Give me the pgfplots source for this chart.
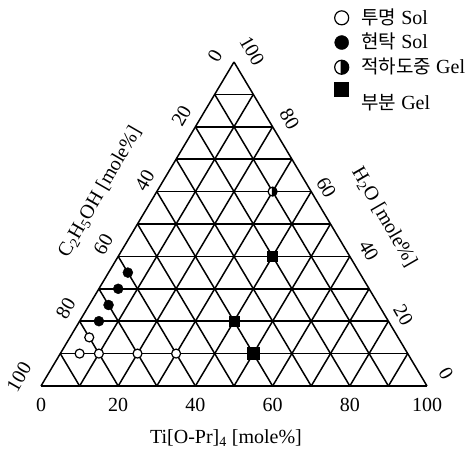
\documentclass[border=0pt]{standalone}
\usepackage{pgfplots}
\pgfplotsset{compat=1.18}
\usepackage{fontspec}
\setmainfont{Liberation Serif}
\newfontfamily\kr[Scale=0.95]{Noto Sans CJK KR}

% half filled circle for "during dropping gel"
\pgfdeclareplotmark{halfcirc}{%
  \pgfscope
  \pgfsetfillcolor{white}%
  \pgfpathcircle{\pgfpointorigin}{\pgfplotmarksize}%
  \pgfusepath{fill}%
  \pgfsetfillcolor{black}%
  \pgfpathmoveto{\pgfqpoint{-0.15\pgfplotmarksize}{\pgfplotmarksize}}%
  \pgfpathlineto{\pgfqpoint{-0.15\pgfplotmarksize}{-\pgfplotmarksize}}%
  \pgfpathlineto{\pgfqpoint{0pt}{-\pgfplotmarksize}}%
  \pgfpatharc{-90}{90}{\pgfplotmarksize}%
  \pgfpathclose
  \pgfusepath{fill}%
  \pgfpathcircle{\pgfpointorigin}{\pgfplotmarksize}%
  \pgfusepath{stroke}%
  \endpgfscope
}

\tikzset{
  lbot/.style={anchor=north, inner sep=0pt, yshift=-12pt},
  lleft/.style 2 args={inner sep=0pt, xshift=#1, yshift=#2, rotate=60},
  lright/.style 2 args={inner sep=0pt, xshift=#1, yshift=#2, rotate=-60},
}

\begin{document}
\fontsize{20}{23}\selectfont
\begin{tikzpicture}
\useasboundingbox (0,0) rectangle (476pt,457pt);
% ternary grid drawn in cartesian form: x = Ti + H2O/2, y = H2O
\begin{axis}[
    scale only axis,
    width=386pt, height=324pt,
    at={(41pt,71pt)}, anchor=south west,
    xmin=0, xmax=100, ymin=0, ymax=100,
    enlargelimits=false,
    axis lines=none,
    clip=false,
    unbounded coords=jump,
    legend style={at={(0.751,1.172)}, anchor=north west, draw=none, fill=none,
        font=\fontsize{20}{23}\selectfont, row sep=6pt,
        nodes={inner sep=0pt},
        /tikz/every odd column/.append style={column sep=12pt}},
    legend cell align=left,
    legend image code/.code={%
        \draw[mark repeat=2, mark phase=2, #1, mark size=7pt]
            plot coordinates {(0pt,0pt) (8pt,0pt) (16pt,0pt)};},
]
% lines of constant H2O
\addplot[black, line width=1.5pt, forget plot] coordinates {
    (0,0) (100,0) (nan,nan)
    (5,10) (95,10) (nan,nan)
    (10,20) (90,20) (nan,nan)
    (15,30) (85,30) (nan,nan)
    (20,40) (80,40) (nan,nan)
    (25,50) (75,50) (nan,nan)
    (30,60) (70,60) (nan,nan)
    (35,70) (65,70) (nan,nan)
    (40,80) (60,80) (nan,nan)
    (45,90) (55,90)
};
% lines of constant Ti
\addplot[black, line width=1.5pt, forget plot] coordinates {
    (0,0) (50,100) (nan,nan)
    (10,0) (55,90) (nan,nan)
    (20,0) (60,80) (nan,nan)
    (30,0) (65,70) (nan,nan)
    (40,0) (70,60) (nan,nan)
    (50,0) (75,50) (nan,nan)
    (60,0) (80,40) (nan,nan)
    (70,0) (85,30) (nan,nan)
    (80,0) (90,20) (nan,nan)
    (90,0) (95,10)
};
% lines of constant C2H5OH
\addplot[black, line width=1.5pt, forget plot] coordinates {
    (100,0) (50,100) (nan,nan)
    (90,0) (45,90) (nan,nan)
    (80,0) (40,80) (nan,nan)
    (70,0) (35,70) (nan,nan)
    (60,0) (30,60) (nan,nan)
    (50,0) (25,50) (nan,nan)
    (40,0) (20,40) (nan,nan)
    (30,0) (15,30) (nan,nan)
    (20,0) (10,20) (nan,nan)
    (10,0) (5,10)
};

% clear sol
\addplot[only marks, mark=*, mark size=4.5pt, mark options={fill=white, draw=black, line width=1.2pt}] coordinates {
    (10,10) (15,10) (25,10) (35,10) (12.5,15)
};
\addlegendentry{{\kr 투명} Sol}
% turbid sol
\addplot[only marks, mark=*, mark size=5pt, black] coordinates {
    (15,20) (17.5,25) (20,30) (22.5,35)
};
\addlegendentry{{\kr 현탁} Sol}
% gel while dropping
\addplot[only marks, mark=halfcirc, mark size=4.5pt, black, line width=1.2pt] coordinates {
    (60,60)
};
\addlegendentry{{\kr 적하도중} Gel}
% partial gel
\addplot[only marks, mark=square*, mark size=5pt, black] coordinates {
    (50,20) (60,40)
};
\addlegendentry{\raisebox{-21pt}[0pt][0pt]{{\kr 부분} Gel}}
\addplot[only marks, mark=square*, mark size=6pt, black, forget plot] coordinates {
    (55,10)
};

% tick labels, Ti (bottom)
\node[lbot] at (axis cs:0,0) {0};
\node[lbot] at (axis cs:20,0) {20};
\node[lbot] at (axis cs:40,0) {40};
\node[lbot] at (axis cs:60,0) {60};
\node[lbot] at (axis cs:80,0) {80};
\node[lbot] at (axis cs:100,0) {100};
% C2H5OH (left side)
\node[lleft={-19pt}{6pt}] at (axis cs:50,100) {0};
\node[lleft={-14pt}{11pt}] at (axis cs:40,80) {20};
\node[lleft={-12pt}{11pt}] at (axis cs:30,60) {40};
\node[lleft={-15pt}{12pt}] at (axis cs:20,40) {60};
\node[lleft={-14pt}{13pt}] at (axis cs:10,20) {80};
\node[lleft={-22pt}{9pt}] at (axis cs:0,0) {100};
% H2O (right side)
\node[lright={18pt}{11pt}] at (axis cs:50,100) {100};
\node[lright={17pt}{8pt}] at (axis cs:60,80) {80};
\node[lright={15pt}{4pt}] at (axis cs:70,60) {60};
\node[lright={19pt}{6pt}] at (axis cs:80,40) {40};
\node[lright={15pt}{6pt}] at (axis cs:90,20) {20};
\node[lright={19pt}{12pt}] at (axis cs:100,0) {0};
\end{axis}

\node at (226pt,19pt) {Ti[O-Pr]\textsubscript{4} [mole\%]};
\node[rotate=60] at (100pt,265pt) {C\textsubscript{2}H\textsubscript{5}OH [mole\%]};
\node[rotate=-60] at (384pt,240pt) {H\textsubscript{2}O [mole\%]};
\end{tikzpicture}
\end{document}
